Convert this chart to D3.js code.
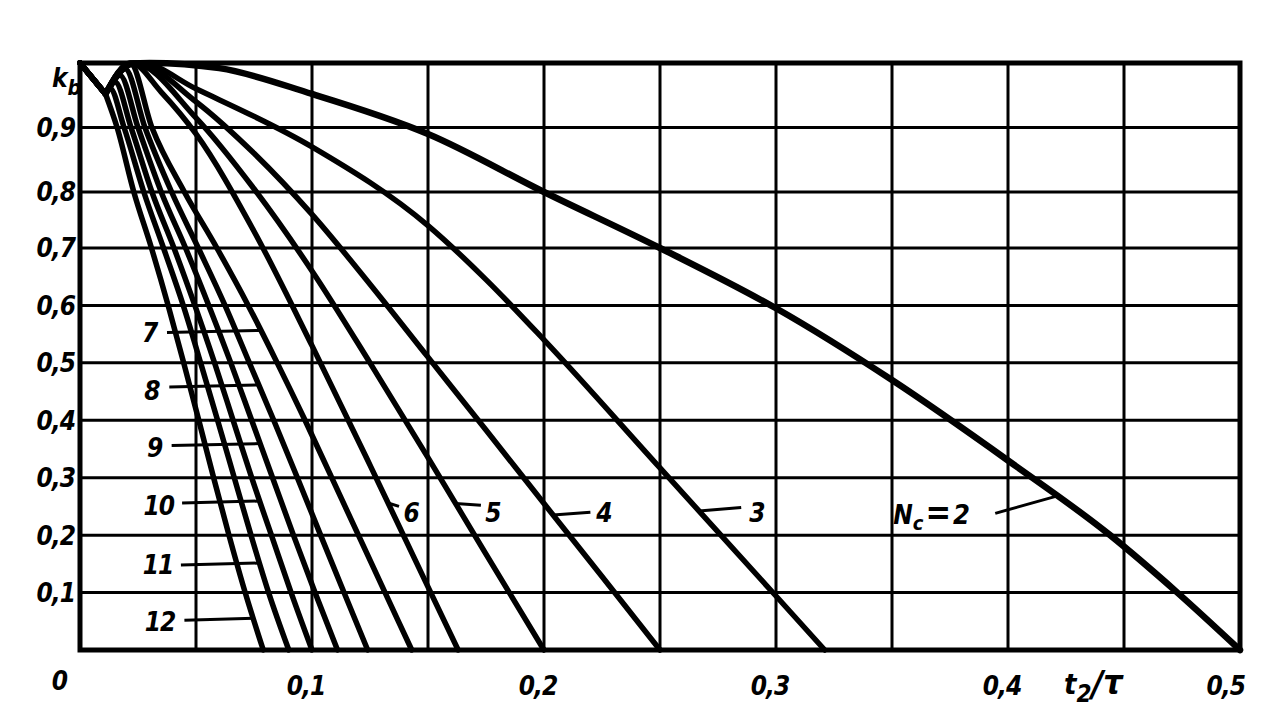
<!DOCTYPE html>
<html><head><meta charset="utf-8">
<script src="https://cdn.jsdelivr.net/npm/d3@7"></script>
<style>
html,body{margin:0;padding:0;background:#fff;}
svg{display:block;}
text{font-family:"DejaVu Sans Condensed","DejaVu Sans",sans-serif;font-weight:bold;font-style:italic;fill:#000;}
</style></head><body>
<svg id="chart" width="1270" height="725"></svg>
<script>
// ---------------- data ----------------
const ncValues = [2, 3, 4, 5, 6, 7, 8, 9, 10, 11, 12];
const startPoints = [[0, 1], [0.011, 0.952]];
const nc2  = [[0.0216,0.998],[0.03,1],[0.06,0.992],[0.1,0.952],[0.15,0.89],[0.2,0.8],[0.25,0.7],[0.3,0.595],[0.35,0.47],[0.4,0.33],[0.444,0.2],[0.473,0.1],[0.5,0]];
const nc3  = [[0.0216,0.998],[0.026,1],[0.05,0.96],[0.1,0.87],[0.15,0.74],[0.175,0.645],[0.2,0.54],[0.25,0.317],[0.3,0.094],[0.321,0]];
const nc4  = [[0.0216,0.998],[0.024,1],[0.05,0.94],[0.075,0.86],[0.1,0.76],[0.125,0.637],[0.15,0.51],[0.175,0.383],[0.2,0.255],[0.225,0.128],[0.25,0]];
const nc5  = [[0.0216,0.999],[0.023,1],[0.05,0.915],[0.075,0.805],[0.1,0.66],[0.125,0.5],[0.15,0.335],[0.175,0.167],[0.2,0]];
const nc6  = [[0.022,1],[0.035,0.955],[0.05,0.89],[0.075,0.73],[0.1,0.53],[0.125,0.322],[0.15,0.11],[0.163,0]];
const nc7  = [[0.0216,1],[0.031,0.9],[0.045,0.8],[0.059,0.7],[0.0725,0.6],[0.085,0.5],[0.097,0.4],[0.1085,0.3],[0.12,0.2],[0.1315,0.1],[0.143,0]];
const nc8  = [[0.0194,0.991],[0.028,0.9],[0.0395,0.8],[0.051,0.7],[0.0625,0.6],[0.073,0.5],[0.0835,0.4],[0.0937,0.3],[0.1037,0.2],[0.1138,0.1],[0.124,0]];
const nc9  = [[0.0172,0.981],[0.025,0.9],[0.035,0.8],[0.0455,0.7],[0.0555,0.6],[0.065,0.5],[0.074,0.4],[0.083,0.3],[0.092,0.2],[0.1013,0.1],[0.111,0]];
const nc10 = [[0.0151,0.9705],[0.022,0.9],[0.031,0.8],[0.0405,0.7],[0.0495,0.6],[0.058,0.5],[0.066,0.4],[0.074,0.3],[0.0825,0.2],[0.091,0.1],[0.1,0]];
const nc11 = [[0.0129,0.961],[0.019,0.9],[0.0275,0.8],[0.036,0.7],[0.0445,0.6],[0.052,0.5],[0.0593,0.4],[0.0665,0.3],[0.0737,0.2],[0.0813,0.1],[0.09,0]];
const nc12 = [[0.016,0.9],[0.0232,0.8],[0.0308,0.7],[0.038,0.6],[0.0447,0.5],[0.0512,0.4],[0.0576,0.3],[0.0642,0.2],[0.0712,0.1],[0.079,0]];
const curveData = [nc2, nc3, nc4, nc5, nc6, nc7, nc8, nc9, nc10, nc11, nc12];

const xGridValues = [0.05,0.1,0.15,0.2,0.25,0.3,0.35,0.4,0.45];
const yGridValues = [0.1,0.2,0.3,0.4,0.5,0.6,0.7,0.8,0.9];
const xTickValues = [0.1,0.2,0.3,0.4,0.5];
const xTickLabels = ["0,1","0,2","0,3","0,4","0,5"];
const yTickValues = [0.1,0.2,0.3,0.4,0.5,0.6,0.7,0.8,0.9];
const yTickLabels = ["0,1","0,2","0,3","0,4","0,5","0,6","0,7","0,8","0,9"];

// ---------------- layout ----------------
const svg = d3.select("#chart");
const x = d3.scaleLinear().domain([0, 0.5]).range([80, 1240]);
// the scanned sheet is slightly stretched near the top
const y = d3.scaleLinear().domain([0, 0.7, 0.8, 1]).range([650, 248, 192, 63]);
const FS = 26;

const g = svg.append("g");

// grid
g.selectAll("line.vg").data(xGridValues).join("line")
  .attr("x1", d => x(d)).attr("x2", d => x(d))
  .attr("y1", y(1)).attr("y2", y(0))
  .attr("stroke", "#000").attr("stroke-width", 3);
g.selectAll("line.hg").data(yGridValues).join("line")
  .attr("x1", x(0)).attr("x2", x(0.5))
  .attr("y1", d => y(d)).attr("y2", d => y(d))
  .attr("stroke", "#000").attr("stroke-width", 3);

// curves
const lineLin = d3.line().x(d => x(d[0])).y(d => y(d[1]));
const lineSmooth = d3.line().x(d => x(d[0])).y(d => y(d[1])).curve(d3.curveMonotoneX);
const series = curveData.map((c, i) => ({ nc: ncValues[i], pts: startPoints.concat(c) }));
series.forEach(s => {
  g.append("path").attr("d", lineLin(s.pts.slice(0, 2)))
    .attr("fill", "none").attr("stroke", "#000").attr("stroke-width", 5.5)
    .attr("stroke-linecap", "round");
  g.append("path").attr("d", lineSmooth(s.pts.slice(1)))
    .attr("fill", "none").attr("stroke", "#000")
    .attr("stroke-width", s.nc === 2 ? 6.5 : 5.5)
    .attr("stroke-linecap", "round").attr("stroke-linejoin", "round");
});

// frame
g.append("rect").attr("x", x(0)).attr("y", y(1))
  .attr("width", x(0.5) - x(0)).attr("height", y(0) - y(1))
  .attr("fill", "none").attr("stroke", "#000").attr("stroke-width", 5);

// helper: t of a curve at a given kb on its falling branch
function tAt(nc, kb) {
  const p = series.find(s => s.nc === nc).pts;
  let iMax = 1;
  p.forEach((d, i) => { if (i > 0 && d[1] >= p[iMax][1]) iMax = i; });
  for (let i = iMax; i < p.length - 1; i++) {
    const a = p[i], b = p[i + 1];
    if (kb <= a[1] && kb >= b[1]) return a[0] + (b[0] - a[0]) * (a[1] - kb) / (a[1] - b[1]);
  }
  return p[p.length - 1][0];
}

// curve labels (positions in data units)
const fanLabels = [
  { nc: 7,  text: "7",  tx: 0.0300, ty: 0.552, lx: 0.0375, lk: 0.553 },
  { nc: 8,  text: "8",  tx: 0.0310, ty: 0.452, lx: 0.0385, lk: 0.458 },
  { nc: 9,  text: "9",  tx: 0.0322, ty: 0.353, lx: 0.0395, lk: 0.356 },
  { nc: 10, text: "10", tx: 0.0340, ty: 0.252, lx: 0.0440, lk: 0.256 },
  { nc: 11, text: "11", tx: 0.0336, ty: 0.148, lx: 0.0435, lk: 0.148 },
  { nc: 12, text: "12", tx: 0.0345, ty: 0.049, lx: 0.0450, lk: 0.052 }
];
const rightLabels = [
  { nc: 6, text: "6", tx: 0.1430, ty: 0.240, lx: 0.1375, lkA: 0.250, lk: 0.256 },
  { nc: 5, text: "5", tx: 0.1782, ty: 0.240, lx: 0.1728, lkA: 0.252, lk: 0.255 },
  { nc: 4, text: "4", tx: 0.2260, ty: 0.240, lx: 0.2200, lkA: 0.240, lk: 0.235 },
  { nc: 3, text: "3", tx: 0.2920, ty: 0.240, lx: 0.2850, lkA: 0.248, lk: 0.242 }
];

fanLabels.forEach(L => {
  g.append("line")
    .attr("x1", x(L.lx)).attr("y1", y(L.lk))
    .attr("x2", x(tAt(L.nc, L.lk))).attr("y2", y(L.lk) - 2)
    .attr("stroke", "#000").attr("stroke-width", 3);
  g.append("text").attr("x", x(L.tx)).attr("y", y(L.ty)).attr("dy", "0.36em")
    .attr("text-anchor", "middle").attr("font-size", FS).attr("letter-spacing", -1).text(L.text);
});
rightLabels.forEach(L => {
  g.append("line")
    .attr("x1", x(L.lx)).attr("y1", y(L.lkA))
    .attr("x2", x(tAt(L.nc, L.lk))).attr("y2", y(L.lk))
    .attr("stroke", "#000").attr("stroke-width", 3);
  g.append("text").attr("x", x(L.tx)).attr("y", y(L.ty)).attr("dy", "0.36em")
    .attr("text-anchor", "middle").attr("font-size", FS).text(L.text);
});

// N_c = 2 label
const n2 = g.append("text").attr("x", x(0.3505)).attr("y", y(0.235)).attr("dy", "0.36em")
  .attr("font-size", FS);
n2.append("tspan").text("N");
n2.append("tspan").attr("font-size", 20).attr("dy", 6).text("c");
n2.append("tspan").attr("font-size", 34).attr("dx", 2).attr("dy", -6).text("=");
n2.append("tspan").attr("font-size", FS + 1).attr("dx", 2).text("2");
g.append("line")
  .attr("x1", x(0.3945)).attr("y1", y(0.238))
  .attr("x2", x(tAt(2, 0.268))).attr("y2", y(0.268))
  .attr("stroke", "#000").attr("stroke-width", 3);

// y tick labels
g.selectAll("text.yl").data(yTickValues).join("text")
  .attr("x", 75).attr("y", d => y(d)).attr("dy", "0.36em")
  .attr("text-anchor", "end").attr("font-size", FS).attr("letter-spacing", -1)
  .text((d, i) => yTickLabels[i]);

// x tick labels
g.selectAll("text.xl").data(xTickValues).join("text")
  .attr("x", (d, i) => i === xTickValues.length - 1 ? x(d) + 5 : x(d) - 6)
  .attr("y", y(0) + 45)
  .attr("text-anchor", (d, i) => i === xTickValues.length - 1 ? "end" : "middle")
  .attr("font-size", FS).attr("letter-spacing", -1)
  .text((d, i) => xTickLabels[i]);

// origin
g.append("text").attr("x", x(0) - 20).attr("y", y(0) + 40)
  .attr("text-anchor", "middle").attr("font-size", FS).text("0");

// axis titles
const kb = g.append("text").attr("x", 52).attr("y", 87).attr("font-size", FS);
kb.append("tspan").text("k");
kb.append("tspan").attr("font-size", 21).attr("dy", 8).text("b");

const tt = g.append("text").attr("x", 1064).attr("y", y(0) + 44).attr("font-size", 29);
tt.append("tspan").text("t");
tt.append("tspan").attr("font-size", 24).attr("dy", 8).text("2");
tt.append("tspan").attr("font-size", 36).attr("dy", -6).text("/");
tt.append("tspan").attr("font-size", 34).attr("dy", -2).text("τ");
</script>
</body></html>
